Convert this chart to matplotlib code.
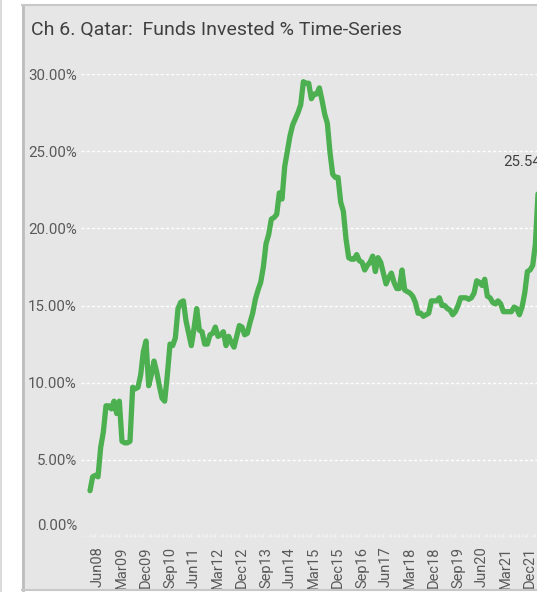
import matplotlib
matplotlib.use("Agg")
import matplotlib.pyplot as plt
from matplotlib.patches import Rectangle
from matplotlib.lines import Line2D
import pandas as pd
import numpy as np

# ---- data (monthly, % of funds invested) ----
start_month = "2008-03"
values = [
    3.0, 3.9, 4.0, 3.9, 5.8, 6.8, 8.5, 8.5, 8.3, 8.8,   # Mar08-Dec08
    8.0, 8.8, 6.2, 6.1, 6.1, 6.2, 9.7, 9.6, 9.7, 10.5,   # Jan09-Oct09
    12.0, 12.7, 9.8, 10.5, 11.4, 10.7, 9.8, 9.0, 8.8, 10.5,
    12.5, 12.4, 12.9, 14.8, 15.2, 15.3, 14.0, 13.2, 12.4, 13.5,
    14.8, 13.4, 13.3, 12.5, 12.5, 13.1, 13.2, 13.6, 13.0, 13.1,
    13.3, 12.4, 13.0, 12.6, 12.3, 13.0, 13.7, 13.6, 13.1, 13.2,
    13.9, 14.5, 15.4, 16.0, 16.5, 17.5, 19.0, 19.6, 20.6, 20.7,
    20.9, 22.3, 21.9, 24.0, 25.0, 26.0, 26.7, 27.1, 27.5, 28.0,
    29.5, 29.4, 29.4, 28.4, 28.7, 28.7, 29.1, 28.3, 27.4, 26.8,
    24.9, 23.5, 23.3, 23.3, 21.7, 21.1, 19.3, 18.1, 18.0, 18.0,
    18.3, 17.9, 17.8, 17.3, 17.6, 17.8, 18.2, 17.2, 18.1, 17.8,
    17.1, 16.4, 16.8, 17.1, 16.5, 16.1, 16.1, 17.3, 16.0, 15.9,
    15.8, 15.6, 15.2, 14.5, 14.5, 14.3, 14.4, 14.5, 15.3, 15.3,
    15.3, 15.5, 15.0, 15.0, 14.8, 14.7, 14.4, 14.6, 15.0, 15.5,
    15.5, 15.5, 15.4, 15.5, 15.8, 16.6, 16.5, 16.3, 16.7, 15.6,
    15.5, 15.2, 15.1, 15.3, 15.1, 14.6, 14.6, 14.6, 14.6, 14.9,
    14.8, 14.4, 14.9, 15.8, 17.2, 17.3, 17.6, 19.0, 22.3, 25.54,
]
months = pd.period_range(start=start_month, periods=len(values), freq="M")
categories = [m.strftime("%b%y") for m in months]
label_every = 9
first_label = 3  # Jun08
y_ticks = [0, 5, 10, 15, 20, 25, 30]
title = "Ch 6. Qatar:  Funds Invested % Time-Series"
last_label = "25.54%"

# ---- figure ----
W, H, DPI = 537, 592, 100
plt.rcParams["font.family"] = ["Roboto", "DejaVu Sans"]
fig = plt.figure(figsize=(W / DPI, H / DPI), dpi=DPI, facecolor="white")

def fx(px):
    return px / W

def fy(py):
    return 1 - py / H

# outer thin line at left edge
fig.add_artist(Line2D([fx(0.7), fx(0.7)], [0, 1], color="#d4d4d4", lw=1.2))
# chart panel
fig.add_artist(Rectangle((fx(22), fy(590)), fx(600) - fx(22), fy(5) - fy(590),
                         facecolor="#e6e6e6", edgecolor="none", zorder=0))
fig.add_artist(Line2D([fx(23), fx(23)], [fy(590), fy(5)], color="#bdbdbd", lw=2))
fig.add_artist(Line2D([fx(22), 1], [fy(5), fy(5)], color="#c8c8c8", lw=1.5))
fig.add_artist(Line2D([fx(22), 1], [fy(590), fy(590)], color="#c8c8c8", lw=1.5))

fig.text(fx(31), fy(30), title, fontsize=14, color="#404040", va="center", ha="left")

# axes geometry: px per month and px per percent
px_per_month = 2.667
x0_px = 90.0         # pixel of first data point
ax_left_px = 81.0
xmin = -(x0_px - ax_left_px) / px_per_month
xmax = len(values) + 3
ax_right_px = ax_left_px + (xmax - xmin) * px_per_month
ax_top_px, ax_bot_px = 74.0, 537.0

ax = fig.add_axes([fx(ax_left_px), fy(ax_bot_px),
                   (ax_right_px - ax_left_px) / W, (ax_bot_px - ax_top_px) / H])
ax.set_facecolor("none")
for s in ax.spines.values():
    s.set_visible(False)

x = np.arange(len(values))
ax.plot(x, values, color="#4caf50", lw=3.8, solid_joinstyle="round",
        solid_capstyle="round", clip_on=False, zorder=3)

ax.set_xlim(xmin, xmax)
ax.set_ylim(0, 30)

ax.set_yticks(y_ticks)
ax.set_yticklabels([""] + [f"{v:.2f}%" for v in y_ticks[1:]])
ax.tick_params(axis="y", length=0, pad=3, labelsize=10.8, labelcolor="#595959")
ax.annotate(f"{y_ticks[0]:.2f}%", xy=(0, 0), xycoords=("axes fraction", "data"),
            xytext=(-4, 11), textcoords="offset pixels", ha="right", va="center",
            fontsize=10.8, color="#595959")

ax.yaxis.grid(True, color="white", lw=1, linestyle=(0, (2.2, 1.6)))
ax.set_axisbelow(True)

tick_idx = list(range(first_label, len(values), label_every))
ax.set_xticks(tick_idx)
ax.set_xticklabels([categories[i] for i in tick_idx], rotation=90, ha="center", va="top")
ax.tick_params(axis="x", length=0, pad=7, labelsize=10.5, labelcolor="#595959")
ax.set_xticks(x, minor=True)
ax.tick_params(axis="x", which="minor", length=2.5, width=0.8, color="#f4f4f4", direction="in")

ax.annotate(last_label, xy=(len(values) - 1, values[-1]), xycoords="data",
            xytext=(fx(503), fy(162)), textcoords="figure fraction",
            ha="left", va="center", fontsize=10.8, color="#404040")

fig.savefig("out.png", dpi=DPI, facecolor="white")
